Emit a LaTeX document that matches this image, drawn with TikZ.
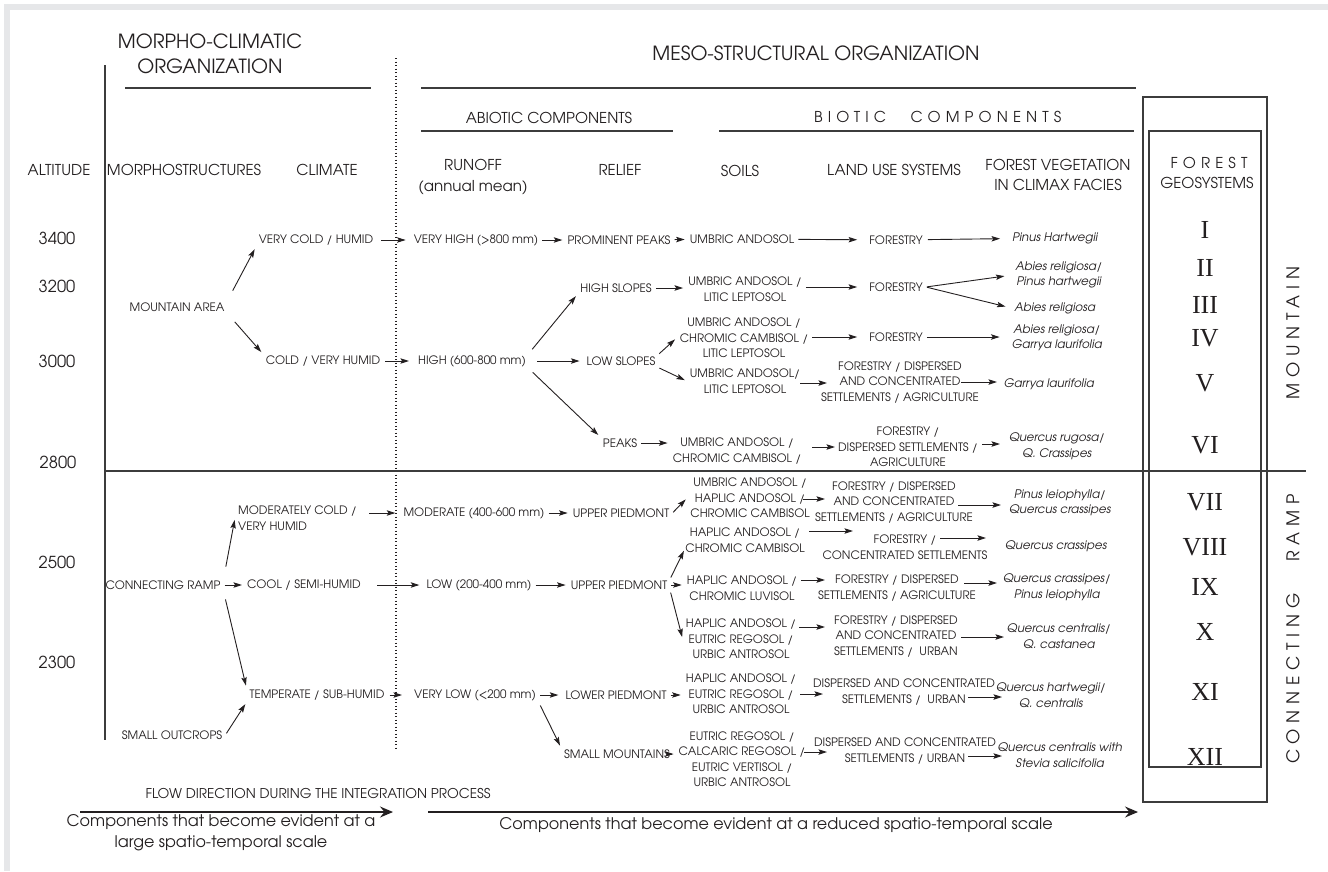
\documentclass[tikz,border=0pt]{standalone}
\usepackage{fontspec}
\IfFontExistsTF{texgyreadventor-regular.otf}{%
  \setmainfont{texgyreadventor}[Extension=.otf,UprightFont=*-regular,ItalicFont=*-italic,BoldFont=*-bold,BoldItalicFont=*-bolditalic]%
}{\setmainfont{Liberation Sans}}
\newfontfamily\romfont{Liberation Serif}
\usetikzlibrary{arrows.meta}
\definecolor{ink}{HTML}{231F20}
\definecolor{rulec}{HTML}{3C3C3C}
\definecolor{framec}{HTML}{E6E7E9}
\begin{document}
\begin{tikzpicture}[x=1pt,y=-1pt,
  every node/.style={inner sep=0pt, text=ink},
  sm/.style={font=\fontsize{11.6}{15.5}\selectfont, align=center, inner xsep=3pt, inner ysep=2pt},
  sml/.style={sm, align=left},
  veg/.style={font=\fontsize{11.8}{15.5}\selectfont\itshape, align=center, inner xsep=3pt, inner ysep=2pt},
  hdr/.style={font=\fontsize{15}{20.5}\selectfont, align=center},
  ttl/.style={font=\fontsize{19.5}{25}\selectfont, align=center},
  alt/.style={font=\fontsize{16.5}{18}\selectfont},
  rom/.style={font=\romfont\fontsize{26}{26}\selectfont},
  side/.style={font=\fontsize{17.5}{18}\selectfont\addfontfeatures{LetterSpace=33}, rotate=90},
  spc/.style={font=\fontsize{15}{18}\selectfont\addfontfeatures{LetterSpace=34}},
  flw/.style={font=\fontsize{13.5}{16}\selectfont},
  captxt/.style={font=\fontsize{16}{21}\selectfont, align=center},
  arr/.style={draw=ink, line width=0.9pt, -{Stealth[length=8.5pt,width=5.4pt,inset=1.6pt]}, shorten <=1pt, shorten >=2pt},
  big/.style={draw=ink, line width=1.2pt, -{Stealth[length=13pt,width=11pt,inset=4.5pt]}},
  rul/.style={draw=rulec, line width=1.1pt},
  dotl/.style={draw=ink, line width=1.1pt, dash pattern=on 0.9pt off 2.6pt},
]
\useasboundingbox (0,0) rectangle (1328,871);
\fill[framec] (4,4) rectangle (1328,10);
\fill[framec] (4,4) rectangle (10,871);

% ---------- rules and boxes
\draw[rul] (105,65) -- (105,740);
\draw[dotl] (396,58) -- (396,748);
\draw[rul] (125,88) -- (371,88);
\draw[rul] (421,88) -- (1136,88);
\draw[rul] (421,131) -- (673,131);
\draw[rul] (719,131) -- (1134,131);
\draw[rul] (105,471) -- (1306,471);
\draw[rul] (1143,97) rectangle (1267,802);
\draw[rul] (1149,131) rectangle (1261,767);

% ---------- headings
\node[ttl] (tmc) at (210,54) {MORPHO-CLIMATIC\\ORGANIZATION};
\node[ttl] (tms) at (816,53) {MESO-STRUCTURAL ORGANIZATION};
\node[hdr] (tab) at (549,118) {ABIOTIC COMPONENTS};
\node[spc] (tbi) at (850,117) {BIOTIC};
\node[spc] (tco) at (986,117) {COMPONENTS};
\node[hdr] (halt) at (59,170) {ALTITUDE};
\node[hdr] (hmor) at (184,170) {MORPHOSTRUCTURES};
\node[hdr] (hcli) at (327,170) {CLIMATE};
\node[hdr] (hrun) at (473,177) {RUNOFF\\(annual mean)};
\node[hdr] (hrel) at (620,170) {RELIEF};
\node[hdr] (hsoi) at (740,171) {SOILS};
\node[hdr] (hlan) at (894,170) {LAND USE SYSTEMS};
\node[hdr] (hveg) at (1058,175) {FOREST VEGETATION\\IN CLIMAX FACIES};
\node[spc] (hfor) at (1209,163) {FOREST};
\node[hdr] (hgeo) at (1207,183) {GEOSYSTEMS};

% ---------- altitudes
\node[alt] (a1) at (57,238) {3400};
\node[alt] (a2) at (57,286) {3200};
\node[alt] (a3) at (57,361) {3000};
\node[alt] (a4) at (58,462) {2800};
\node[alt] (a5) at (57,562) {2500};
\node[alt] (a6) at (57,662) {2300};

% ---------- morphostructures
\node[sm] (m1) at (177,307) {MOUNTAIN AREA};
\node[sm] (m2) at (163,585) {CONNECTING RAMP};
\node[sm] (m3) at (172,735) {SMALL OUTCROPS};

% ---------- climate
\node[sm] (c1) at (316,240) {VERY COLD / HUMID};
\node[sm] (c2) at (323,361) {COLD / VERY HUMID};
\node[sml, anchor=west] (c3) at (235,518) {MODERATELY COLD /\\VERY HUMID};
\node[sm] (c4) at (304,585) {COOL / SEMI-HUMID};
\node[sm] (c5) at (317,695) {TEMPERATE / SUB-HUMID};

% ---------- runoff
\node[sm] (r1) at (476,240) {VERY HIGH (>800 mm)};
\node[sm] (r2) at (472,361) {HIGH (600-800 mm)};
\node[sm] (r3) at (474,513) {MODERATE (400-600 mm)};
\node[sm] (r4) at (479,585) {LOW (200-400 mm)};
\node[sm] (r5) at (475,695) {VERY LOW (<200 mm)};

% ---------- relief
\node[sm] (e1) at (619,240) {PROMINENT PEAKS};
\node[sm] (e2) at (616,288) {HIGH SLOPES};
\node[sm] (e3) at (621,361) {LOW SLOPES};
\node[sm] (e4) at (620,443) {PEAKS};
\node[sm] (e5) at (621,513) {UPPER PIEDMONT};
\node[sm] (e6) at (619,585) {UPPER PIEDMONT};
\node[sm] (e7) at (616,695) {LOWER PIEDMONT};
\node[sm] (e8) at (617,754) {SMALL MOUNTAINS};

% ---------- soils
\node[sm] (s1) at (742,239) {UMBRIC ANDOSOL};
\node[sm] (s2) at (745,289) {UMBRIC ANDOSOL /\\LITIC LEPTOSOL};
\node[sm] (s3) at (744,338) {UMBRIC ANDOSOL /\\CHROMIC CAMBISOL /\\LITIC LEPTOSOL};
\node[sm] (s4) at (745,381) {UMBRIC ANDOSOL/\\LITIC LEPTOSOL};
\node[sm] (s5) at (737,451) {UMBRIC ANDOSOL /\\CHROMIC CAMBISOL /};
\node[sm] (s6) at (750,498) {UMBRIC ANDOSOL /\\HAPLIC ANDOSOL /\\CHROMIC CAMBISOL};
\node[sm] (s7) at (745,540) {HAPLIC ANDOSOL /\\CHROMIC CAMBISOL};
\node[sm] (s8) at (742,588) {HAPLIC ANDOSOL /\\CHROMIC LUVISOL};
\node[sm] (s9) at (741,639) {HAPLIC ANDOSOL /\\EUTRIC REGOSOL /\\URBIC ANTROSOL};
\node[sm] (s10) at (741,694) {HAPLIC ANDOSOL /\\EUTRIC REGOSOL /\\URBIC ANTROSOL};
\node[sm] (s11) at (742,759) {EUTRIC REGOSOL /\\CALCARIC REGOSOL /\\EUTRIC VERTISOL /\\URBIC ANTROSOL};

% ---------- land use
\node[sm] (l1) at (896,240) {FORESTRY};
\node[sm] (l2) at (896,287) {FORESTRY};
\node[sm] (l3) at (896,337) {FORESTRY};
\node[sm] (l4) at (900,382) {FORESTRY / DISPERSED\\AND CONCENTRATED\\SETTLEMENTS / AGRICULTURE};
\node[sm] (l5) at (908,447) {FORESTRY /\\DISPERSED SETTLEMENTS /\\AGRICULTURE};
\node[sm] (l6) at (894,502) {FORESTRY / DISPERSED\\AND CONCENTRATED\\SETTLEMENTS / AGRICULTURE};
\node[sm] (l7) at (905,547) {FORESTRY /\\CONCENTRATED SETTLEMENTS};
\node[sm] (l8) at (897,588) {FORESTRY / DISPERSED\\SETTLEMENTS / AGRICULTURE};
\node[sm] (l9) at (896,636) {FORESTRY / DISPERSED\\AND CONCENTRATED\\SETTLEMENTS /\ \ URBAN};
\node[sm] (l10) at (904,692) {DISPERSED AND CONCENTRATED\\SETTLEMENTS /\ \ URBAN};
\node[sm] (l11) at (905,751) {DISPERSED AND CONCENTRATED\\SETTLEMENTS / URBAN};

% ---------- vegetation
\node[veg] (v1) at (1055,238) {Pinus Hartwegii};
\node[veg] (v2) at (1059,275) {Abies religiosa/\\Pinus hartwegii};
\node[veg] (v3) at (1055,308) {Abies religiosa};
\node[veg] (v4) at (1057,338) {Abies religiosa/\\Garrya laurifolia};
\node[veg] (v5) at (1049,384) {Garrya laurifolia};
\node[veg] (v6) at (1057,446) {Quercus rugosa/\\Q. Crassipes};
\node[veg] (v7) at (1060,503) {Pinus leiophylla/\\Quercus crassipes};
\node[veg] (v8) at (1056,546) {Quercus crassipes};
\node[veg] (v9) at (1057,587) {Quercus crassipes/\\Pinus leiophylla};
\node[veg] (v10) at (1059,636) {Quercus centralis/\\Q. castanea};
\node[veg] (v11) at (1051,695) {Quercus hartwegii/\\Q. centralis};
\node[veg] (v12) at (1060,755) {Quercus centralis with\\Stevia salicifolia};

% ---------- geosystems
\node[rom] (g1) at (1205,230) {I};
\node[rom] (g2) at (1205,268) {II};
\node[rom] (g3) at (1205,305) {III};
\node[rom] (g4) at (1205,338) {IV};
\node[rom] (g5) at (1205,383) {V};
\node[rom] (g6) at (1205,445) {VI};
\node[rom] (g7) at (1205,502) {VII};
\node[rom] (g8) at (1205,547) {VIII};
\node[rom] (g9) at (1205,587) {IX};
\node[rom] (g10) at (1205,632) {X};
\node[rom] (g11) at (1205,692) {XI};
\node[rom] (g12) at (1205,757) {XII};

\node[side] (smt) at (1293,333) {MOUNTAIN};
\node[side] (scr) at (1293,629) {CONNECTING\ \ \ RAMP};

% ---------- arrows: morphostructures -> climate
\draw[arr, shorten <=11pt] (m1.north east) -- (c1.south west);
\draw[arr, shorten <=11pt] (m1.south east) -- (c2.north west);
\draw[arr] (m2) -- (c4);
\draw[arr, shorten <=12pt] (m2.north east) -- (c3.west);
\draw[arr, shorten <=8pt] (m2.south east) -- (c5.north west);
\draw[arr, shorten <=2pt] (m3.east) -- (c5.south west);

% climate -> runoff
\draw[arr, shorten <=5pt, shorten >=5pt] (c1) -- (r1);
\draw[arr, shorten <=2pt, shorten >=6pt] (c2) -- (r2);
\draw[arr, shorten <=9pt, shorten >=5pt] (c3.east |- r3) -- (r3);
\draw[arr, shorten <=13pt, shorten >=4pt] (c4) -- (r4);
\draw[arr, shorten <=2pt, shorten >=9pt] (c5) -- (r5);

% runoff -> relief
\draw[arr] (r1) -- (e1);
\draw[arr, shorten <=5pt] (r2.north east) -- (e2.south west);
\draw[arr, shorten <=8pt, shorten >=4pt] (r2) -- (e3);
\draw[arr, shorten <=5pt] (r2.south east) -- (e4.north west);
\draw[arr] (r3) -- (e5);
\draw[arr] (r4) -- (e6);
\draw[arr, shorten >=4pt] (r5) -- (e7);
\draw[arr, shorten <=3pt] (r5.south east) -- (e8.north west);

% relief -> soils
\draw[arr] (e1) -- (s1);
\draw[arr] (e2) -- (s2.west |- e2);
\draw[arr] (e3.north east) -- (s3.west);
\draw[arr] (e3.south east) -- (s4.west);
\draw[arr] (e4) -- (s5.west |- e4);
\draw[arr] (e5.east) -- (s6.west);
\draw[arr, shorten >=-4pt] (e6.north east) -- (s7.south west);
\draw[arr] (e6) -- (s8.west |- e6);
\draw[arr] (e6.south east) -- (s9.west);
\draw[arr] (e7) -- (s10.west |- e7);
\draw[arr] (e8) -- (s11.west |- e8);

% soils -> land use
\draw[arr, shorten >=9pt] (s1) -- (l1);
\draw[arr, shorten >=9pt] (s2.east |- l2) -- (l2);
\draw[arr, shorten >=9pt] (s3.east |- l3) -- (l3);
\draw[arr, shorten <=55pt, shorten >=73pt] (s4.center |- 0,383) -- (l4.center |- 0,383);
\draw[arr, shorten <=75pt, shorten >=73pt] (s5.center |- 0,447) -- (l5.center |- 0,447);
\draw[arr, shorten <=53pt, shorten >=69pt] (s6.center |- 0,499) -- (l6.center |- 0,499);
\draw[arr, shorten <=64pt, shorten >=52pt] (s7.center |- 0,531) -- (l7.center |- 0,531);
\draw[arr, shorten <=59pt, shorten >=72pt] (s8.center |- 0,580) -- (l8.center |- 0,580);
\draw[arr, shorten <=58pt, shorten >=71pt] (s9.center |- 0,627) -- (l9.center |- 0,627);
\draw[arr, shorten <=59pt, shorten >=81pt] (s10.center |- 0,694) -- (l10.center |- 0,694);
\draw[arr, shorten <=62pt, shorten >=78pt] (s11.center |- 0,752) -- (l11.center |- 0,752);

% land use -> vegetation
\draw[arr, shorten <=2pt, shorten >=9pt] (l1) -- (v1);
\draw[arr, shorten >=8pt] (l2.east) -- (v2.west);
\draw[arr, shorten >=6pt] (l2.east) -- (v3.west);
\draw[arr, shorten >=9pt] (l3) -- (v4.west |- l3);
\draw[arr, shorten <=61pt, shorten >=52pt] (l4.center |- 0,382) -- (v5.center |- 0,382);
\draw[arr, shorten <=74pt, shorten >=57pt] (l5.center |- 0,444) -- (v6.center |- 0,444);
\draw[arr, shorten <=64pt, shorten >=59pt] (l6.center |- 0,505) -- (v7.center |- 0,505);
\draw[arr, shorten <=35pt, shorten >=70pt] (l7.center |- 0,538) -- (v8.center |- 0,538);
\draw[arr, shorten <=67pt, shorten >=60pt] (l8.center |- 0,583) -- (v9.center |- 0,583);
\draw[arr, shorten <=65pt, shorten >=55pt] (l9.center |- 0,637) -- (v10.center |- 0,637);
\draw[arr, shorten <=64pt, shorten >=49pt] (l10.center |- 0,697) -- (v11.center |- 0,697);
\draw[arr, shorten <=63pt, shorten >=58pt] (l11.center |- 0,756) -- (v12.center |- 0,756);

% ---------- bottom
\node[flw] (flow) at (318,793) {FLOW DIRECTION DURING THE INTEGRATION PROCESS};
\coordinate (fa1) at (80,812);
\coordinate (fa2) at (393,812);
\coordinate (fb1) at (428,812);
\coordinate (fb2) at (1138,812);
\draw[big] (fa1) -- (fa2);
\draw[big] (fb1) -- (fb2);
\node[captxt] (capl) at (221,833) {Components that become evident at a\\large spatio-temporal scale};
\node[captxt] (capr) at (776,825) {Components that become evident at a reduced spatio-temporal scale};
\end{tikzpicture}
\end{document}
